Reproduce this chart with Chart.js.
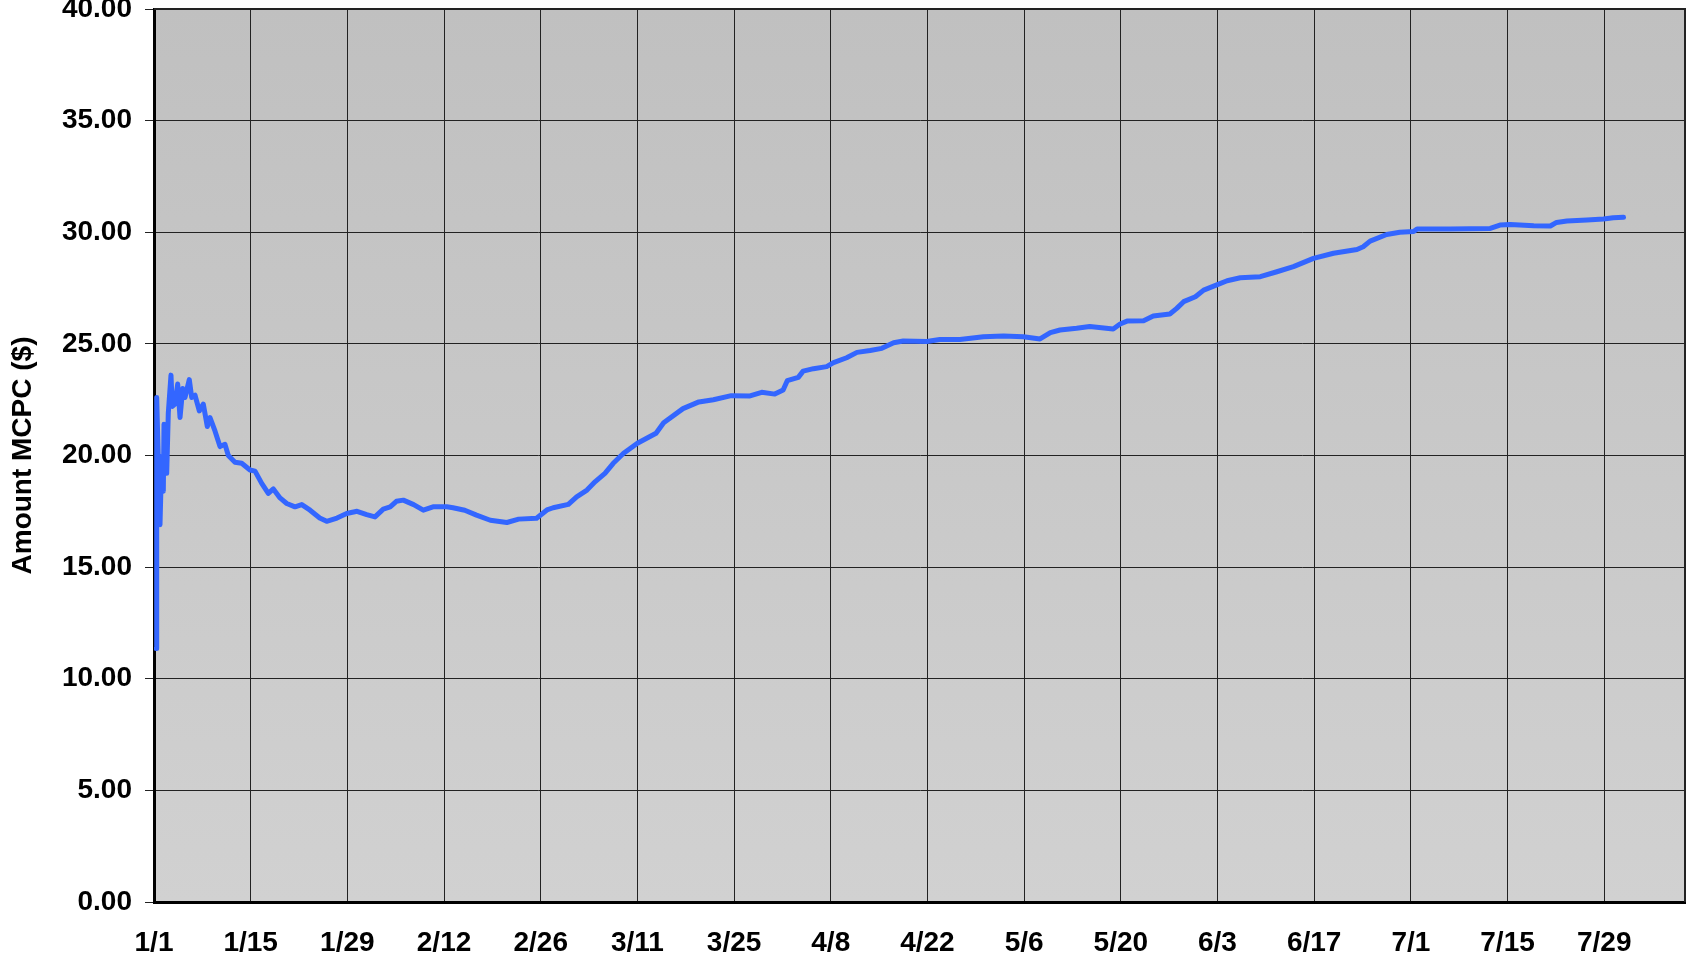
<!DOCTYPE html>
<html>
<head>
<meta charset="utf-8">
<script src="https://cdn.jsdelivr.net/npm/chart.js@4/dist/chart.umd.min.js"></script>
<style>
    html, body { margin: 0; padding: 0; background: #fff; }
    #wrap { width: 1686px; height: 955px; }
</style>
</head>
<body>
<div id="wrap"><canvas id="mcpcChart" width="1686" height="955"></canvas></div>
<script>

// day offset from 1/1 (leap year) and the MCPC amount on that day
const days = [
    0.29, 0.39, 0.87, 1.12, 1.35, 1.45, 1.84, 2.07, 2.46, 2.65,
    3.04, 3.43, 3.77, 4.16, 4.49, 5.11, 5.46, 5.94, 6.56, 7.14,
    7.72, 8.11, 8.83, 9.56, 10.28, 10.76, 11.73, 12.7, 13.9, 14.63,
    15.6, 16.55, 17.28, 18.25, 19.22, 20.42, 21.4, 22.6, 24.0, 25.0,
    26.5, 27.9, 29.4, 30.8, 32.0, 33.2, 34.2, 35.1, 36.1, 37.6,
    39.0, 40.4, 42.4, 43.3, 45.0, 46.7, 48.7, 51.1, 52.8, 55.4,
    56.9, 57.8, 60.0, 61.2, 62.7, 63.9, 65.3, 66.5, 68.0, 70.0,
    72.7, 73.8, 76.6, 78.9, 81.0, 83.6, 86.3, 88.0, 89.9, 91.1,
    91.7, 93.3, 94.0, 95.5, 97.4, 98.4, 100.3, 101.8, 103.7, 105.4,
    107.1, 108.5, 111.9, 113.8, 116.7, 120.1, 123.0, 125.9, 128.3, 129.8,
    131.2, 133.6, 135.5, 138.9, 139.9, 140.9, 143.3, 144.7, 147.1, 148.1,
    149.1, 150.8, 152.0, 153.9, 155.4, 157.3, 160.2, 162.6, 165.0, 167.9,
    170.8, 174.2, 175.1, 176.1, 178.5, 180.4, 182.4, 182.9, 187.7, 193.5,
    194.9, 196.4, 199.8, 202.2, 203.1, 204.6, 207.5, 209.9, 211.3, 212.8
];
const mcpc = [
    11.35, 22.6, 16.9, 19.95, 18.4, 21.4, 19.2, 21.9, 23.6, 22.2,
    22.3, 23.2, 21.7, 23.0, 22.6, 23.4, 22.6, 22.7, 22.0, 22.3,
    21.3, 21.7, 21.1, 20.4, 20.5, 20.0, 19.7, 19.65, 19.35, 19.3,
    18.75, 18.3, 18.5, 18.1, 17.85, 17.7, 17.8, 17.55, 17.2, 17.05,
    17.2, 17.4, 17.5, 17.35, 17.25, 17.6, 17.7, 17.95, 18.0, 17.8,
    17.55, 17.7, 17.7, 17.66, 17.55, 17.33, 17.1, 17.0, 17.15, 17.19,
    17.56, 17.66, 17.81, 18.15, 18.45, 18.83, 19.2, 19.65, 20.1, 20.55,
    21.0, 21.47, 22.1, 22.4, 22.5, 22.68, 22.67, 22.83, 22.75, 22.93,
    23.35, 23.5, 23.78, 23.89, 23.98, 24.16, 24.38, 24.62, 24.7, 24.8,
    25.05, 25.13, 25.11, 25.2, 25.2, 25.32, 25.35, 25.32, 25.22, 25.5,
    25.62, 25.7, 25.78, 25.67, 25.89, 26.02, 26.04, 26.25, 26.34, 26.59,
    26.89, 27.11, 27.41, 27.64, 27.83, 27.96, 28.01, 28.23, 28.46, 28.83,
    29.06, 29.23, 29.35, 29.6, 29.9, 30.0, 30.03, 30.15, 30.15, 30.17,
    30.32, 30.35, 30.29, 30.28, 30.44, 30.5, 30.55, 30.59, 30.65, 30.67
];

const tickDays = [0, 14, 28, 42, 56, 70, 84, 98, 112, 126, 140, 154, 168, 182, 196, 210];
const tickLabels = ['1/1', '1/15', '1/29', '2/12', '2/26', '3/11', '3/25', '4/8',
    '4/22', '5/6', '5/20', '6/3', '6/17', '7/1', '7/15', '7/29'];

Chart.defaults.font.family = "'Liberation Sans', Arial, sans-serif";
Chart.defaults.color = '#000';

const labelFont = { size: 28, weight: 'bold' };

// grey plot area, a little darker at the top, with a frame on top and right
const plotFrame = {
    id: 'plotFrame',
    beforeDraw(chart) {
        const { ctx, chartArea: a } = chart;
        const g = ctx.createLinearGradient(0, a.top, 0, a.bottom);
        g.addColorStop(0, '#c0c0c0');
        g.addColorStop(1, '#d1d1d1');
        ctx.save();
        ctx.fillStyle = g;
        ctx.fillRect(a.left, a.top, a.right - a.left, a.bottom - a.top);
        ctx.restore();
    },
    afterDraw(chart) {
        const { ctx, chartArea: a } = chart;
        ctx.save();
        ctx.strokeStyle = '#222';
        ctx.lineWidth = 2;
        ctx.beginPath();
        ctx.moveTo(a.left, a.top);
        ctx.lineTo(a.right, a.top);
        ctx.lineTo(a.right, a.bottom);
        ctx.stroke();
        ctx.restore();
    }
};

new Chart(document.getElementById('mcpcChart'), {
    type: 'line',
    data: {
        datasets: [{
            data: days.map((d, i) => ({ x: d, y: mcpc[i] })),
            borderColor: '#3366ff',
            borderWidth: 5,
            borderJoinStyle: 'round',
            borderCapStyle: 'round',
            pointRadius: 0,
            tension: 0
        }]
    },
    options: {
        responsive: false,
        animation: false,
        layout: { padding: { top: 9, right: 1, left: 0, bottom: 0 } },
        plugins: { legend: { display: false }, tooltip: { enabled: false } },
        scales: {
            x: {
                type: 'linear',
                min: 0,
                max: 221.7,
                afterBuildTicks: scale => { scale.ticks = tickDays.map(v => ({ value: v })); },
                afterFit: scale => { scale.height = 53; scale.paddingLeft = 0; scale.paddingRight = 0; },
                ticks: {
                    autoSkip: false,
                    maxRotation: 0,
                    padding: 24,
                    font: labelFont,
                    callback: (v, i) => tickLabels[i]
                },
                grid: { color: '#222', lineWidth: 1, drawTicks: false },
                border: { color: '#000', width: 3 }
            },
            y: {
                min: 0,
                max: 40,
                afterFit: scale => { scale.width = 154; scale.paddingTop = 0; scale.paddingBottom = 0; },
                ticks: {
                    stepSize: 5,
                    padding: 13,
                    font: labelFont,
                    callback: v => v.toFixed(2)
                },
                grid: { color: '#222', lineWidth: 1, tickLength: 9 },
                border: { color: '#000', width: 3 },
                title: {
                    display: true,
                    text: 'Amount MCPC ($)',
                    font: labelFont,
                    padding: { top: 6, bottom: 0 }
                }
            }
        }
    },
    plugins: [plotFrame]
});
</script>
</body>
</html>
